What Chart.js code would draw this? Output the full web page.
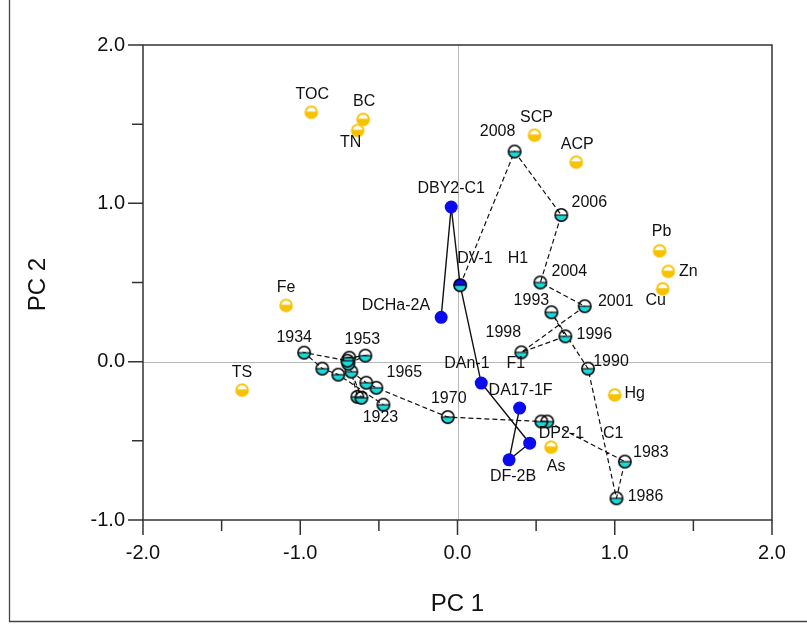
<!DOCTYPE html>
<html>
<head>
<meta charset="utf-8">
<script src="https://cdn.jsdelivr.net/npm/chart.js@4.4.0/dist/chart.umd.min.js"></script>
<style>
  html, body { margin: 0; padding: 0; background: #ffffff; }
  #wrap { width: 807px; height: 625px; position: relative; }
</style>
</head>
<body>
<div id="wrap"><canvas id="c" width="807" height="625"></canvas></div>
<script>
// PCA biplot: variable loadings, dated core samples and surface sites on PC 1 / PC 2

// Variable loadings
const variableNames = ['TOC', 'BC', 'TN', 'SCP', 'ACP', 'Pb', 'Zn', 'Cu', 'Fe', 'TS', 'Hg', 'As'];
const variablePC1 = [-0.93, -0.60, -0.635, 0.49, 0.755, 1.285, 1.34, 1.305, -1.09, -1.37, 1.00, 0.595];
const variablePC2 = [1.575, 1.53, 1.46, 1.43, 1.26, 0.70, 0.57, 0.46, 0.355, -0.18, -0.21, -0.54];

// Dated core samples, joined in sequence by the dashed line
const sampleYears = ['', '2008', '2006', '2004', '2001', '1998', '1996', '1993', '1990', '1986', '1983',
  '', '', '1970', '1965', '', '', '', '', '', '1953', '', '', '1934', '', '', '1923'];
const samplePC1 = [0.017, 0.363, 0.660, 0.527, 0.809, 0.406, 0.686, 0.597, 0.830, 1.011, 1.064,
  0.571, 0.533, -0.062, -0.516, -0.580, -0.675, -0.637, -0.611, -0.694, -0.586, -0.688, -0.700,
  -0.975, -0.860, -0.758, -0.471];
const samplePC2 = [0.483, 1.327, 0.926, 0.500, 0.350, 0.059, 0.160, 0.312, -0.044, -0.863, -0.631,
  -0.378, -0.378, -0.350, -0.165, -0.133, -0.063, -0.222, -0.228, -0.013, 0.038, 0.025, 0.006,
  0.057, -0.044, -0.082, -0.272];

// Surface sites, joined by the solid line
const siteNames = ['DCHa-2A', 'DBY2-C1', 'DV-1', 'DAn-1', 'DP2-1', 'DF-2B', 'DA17-1F'];
const siteCores = ['', '', 'H1', 'F1', 'C1', '', ''];
const sitePC1 = [-0.104, -0.040, 0.017, 0.151, 0.459, 0.328, 0.395];
const sitePC2 = [0.280, 0.977, 0.483, -0.135, -0.515, -0.620, -0.293];

// Axis ranges and ticks
const xTicks = [-2, -1, 0, 1, 2];
const yTicks = [-1, 0, 1, 2];
const minorStep = 0.5;

// Label placement relative to each mark: [dx, dy, align, gap before core tag]
const variablePlace = {
  TOC: [1, -18], BC: [1, -18], TN: [-7, 12], SCP: [2, -18], ACP: [1, -18],
  Pb: [2, -19], Zn: [20, 0], Cu: [-7, 12], Fe: [0, -18], TS: [0, -18], Hg: [20, -1], As: [5, 19]
};
const yearPlace = {
  '2008': [-17, -20], '2006': [28, -12], '2004': [29, -11], '2001': [31, -5], '1998': [-18, -20],
  '1996': [29, -2], '1993': [-20, -12], '1990': [23, -7], '1986': [29, -2], '1983': [26, -9],
  '1970': [1, -18], '1965': [28, -15], '1953': [-3, -16], '1934': [-10, -15], '1923': [-3, 13]
};
const sitePlace = {
  'DCHa-2A': [-11, -12, 'right'], 'DBY2-C1': [0, -18, 'center'], 'DV-1': [-3, -27, 'left', 15],
  'DAn-1': [-37, -19, 'left', 17], 'DP2-1': [9, -10, 'left', 19], 'DF-2B': [4, 17, 'center'],
  'DA17-1F': [1, -17, 'center']
};

const FONT = '"Liberation Sans", Arial, Helvetica, sans-serif';
const CYAN = '#19d9d9';
const YELLOW = '#f7c200';
const BLUE = '#0b0bef';

function halfMarker(r, fill, stroke, lw, midLw) {
  const s = 18, c = s / 2;
  const cv = document.createElement('canvas');
  cv.width = s; cv.height = s;
  const g = cv.getContext('2d');
  g.beginPath();
  g.arc(c, c, r, 0, Math.PI);
  g.closePath();
  g.fillStyle = fill;
  g.fill();
  g.strokeStyle = stroke;
  g.lineWidth = midLw;
  g.beginPath();
  g.moveTo(c - r, c);
  g.lineTo(c + r, c);
  g.stroke();
  g.lineWidth = lw;
  g.beginPath();
  g.arc(c, c, r, 0, Math.PI * 2);
  g.stroke();
  return cv;
}

const sampleMark = halfMarker(6.2, CYAN, '#000000', 1.5, 1.1);
const variableMark = halfMarker(5.8, YELLOW, YELLOW, 2, 1.5);

const toPts = (xs, ys) => xs.map((x, i) => ({ x: x, y: ys[i] }));

const framePlugin = {
  id: 'frame',
  beforeDatasetsDraw(chart) {
    const { ctx, chartArea: a, scales: { x, y } } = chart;
    ctx.save();
    // zero reference lines
    ctx.strokeStyle = '#b8b8b8';
    ctx.lineWidth = 1;
    const x0 = Math.round(x.getPixelForValue(0)) + 0.5;
    const y0 = Math.round(y.getPixelForValue(0)) + 0.5;
    ctx.beginPath();
    ctx.moveTo(x0, a.top); ctx.lineTo(x0, a.bottom);
    ctx.moveTo(a.left, y0); ctx.lineTo(a.right, y0);
    ctx.stroke();
    ctx.restore();
  },
  afterDraw(chart) {
    const { ctx, chartArea: a, scales: { x, y } } = chart;
    ctx.save();
    ctx.strokeStyle = '#333333';
    ctx.lineWidth = 1.5;
    ctx.strokeRect(a.left, a.top, a.right - a.left, a.bottom - a.top);
    ctx.beginPath();
    for (let v = x.min; v <= x.max + 1e-9; v += minorStep) {
      const px = x.getPixelForValue(v);
      const len = xTicks.includes(Math.round(v * 10) / 10) ? 15 : 11;
      ctx.moveTo(px, a.bottom); ctx.lineTo(px, a.bottom + len);
    }
    for (let v = y.min; v <= y.max + 1e-9; v += minorStep) {
      const py = y.getPixelForValue(v);
      const len = yTicks.includes(Math.round(v * 10) / 10) ? 15 : 11;
      ctx.moveTo(a.left, py); ctx.lineTo(a.left - len, py);
    }
    ctx.stroke();
    // outer figure edges
    ctx.strokeStyle = '#444444';
    ctx.lineWidth = 1.3;
    ctx.beginPath();
    ctx.moveTo(9.5, 0); ctx.lineTo(9.5, 621.5); ctx.lineTo(807, 621.5);
    ctx.stroke();
    // axis titles
    ctx.fillStyle = '#111111';
    ctx.font = '24px ' + FONT;
    ctx.textAlign = 'center';
    ctx.textBaseline = 'middle';
    ctx.fillText('PC 1', (a.left + a.right) / 2, 604);
    ctx.translate(38, (a.top + a.bottom) / 2 + 2);
    ctx.rotate(-Math.PI / 2);
    ctx.fillText('PC 2', 0, 0);
    ctx.restore();
  }
};

const labelPlugin = {
  id: 'pointLabels',
  afterDatasetsDraw(chart) {
    const { ctx, scales: { x, y } } = chart;
    ctx.save();
    ctx.fillStyle = '#111111';
    ctx.font = '16px ' + FONT;
    ctx.textBaseline = 'middle';
    variableNames.forEach((name, i) => {
      const p = variablePlace[name];
      ctx.textAlign = 'center';
      ctx.fillText(name, x.getPixelForValue(variablePC1[i]) + p[0], y.getPixelForValue(variablePC2[i]) + p[1]);
    });
    sampleYears.forEach((yr, i) => {
      if (!yr) return;
      const p = yearPlace[yr];
      ctx.textAlign = 'center';
      ctx.fillText(yr, x.getPixelForValue(samplePC1[i]) + p[0], y.getPixelForValue(samplePC2[i]) + p[1]);
    });
    siteNames.forEach((name, i) => {
      const p = sitePlace[name];
      const px = x.getPixelForValue(sitePC1[i]) + p[0];
      const py = y.getPixelForValue(sitePC2[i]) + p[1];
      ctx.textAlign = p[2];
      ctx.fillText(name, px, py);
      if (siteCores[i]) {
        ctx.textAlign = 'left';
        ctx.fillText(siteCores[i], px + ctx.measureText(name).width + p[3], py);
      }
    });
    ctx.restore();
  }
};

new Chart(document.getElementById('c'), {
  type: 'scatter',
  data: {
    datasets: [
      {
        label: 'core path',
        data: toPts(samplePC1, samplePC2),
        showLine: true,
        borderColor: '#111111',
        borderWidth: 1.2,
        borderDash: [5, 3],
        pointRadius: 0,
        order: 10
      },
      {
        label: 'site path',
        data: toPts(sitePC1, sitePC2),
        showLine: true,
        borderColor: '#111111',
        borderWidth: 1.4,
        pointRadius: 0,
        order: 9
      },
      {
        label: 'sites',
        data: toPts(sitePC1, sitePC2),
        pointStyle: 'circle',
        pointRadius: 6.5,
        backgroundColor: BLUE,
        borderWidth: 0,
        order: 5
      },
      {
        label: 'variables',
        data: toPts(variablePC1, variablePC2),
        pointStyle: variableMark,
        order: 3
      },
      {
        label: 'samples',
        data: toPts(samplePC1, samplePC2),
        pointStyle: sampleMark,
        order: 1
      }
    ]
  },
  options: {
    responsive: false,
    animation: false,
    devicePixelRatio: 1,
    layout: { padding: { top: 45, right: 35, left: 0, bottom: 0 } },
    plugins: { legend: { display: false }, tooltip: { enabled: false } },
    scales: {
      x: {
        type: 'linear', min: -2, max: 2,
        grid: { display: false }, border: { display: false },
        ticks: {
          stepSize: 1, padding: 13, color: '#111111', font: { size: 20, family: FONT },
          callback: v => xTicks.includes(v) ? v.toFixed(1) : ''
        },
        afterFit: s => { s.height = 105; }
      },
      y: {
        type: 'linear', min: -1, max: 2,
        grid: { display: false }, border: { display: false },
        ticks: {
          stepSize: 1, padding: 10, color: '#111111', font: { size: 20, family: FONT },
          callback: v => yTicks.includes(v) ? v.toFixed(1) : ''
        },
        afterFit: s => { s.width = 143; }
      }
    }
  },
  plugins: [framePlugin, labelPlugin]
});
</script>
</body>
</html>
